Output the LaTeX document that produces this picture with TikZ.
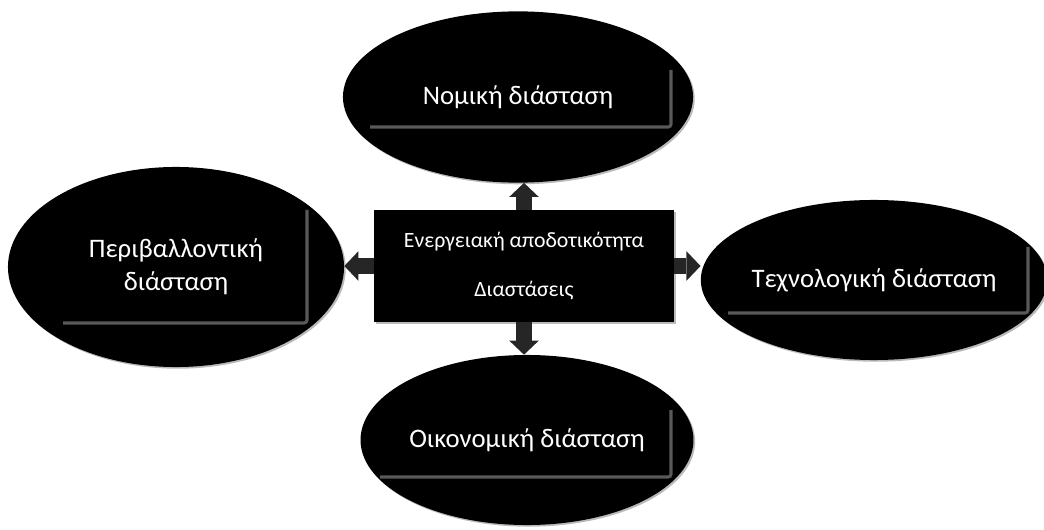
\documentclass[tikz,border=0pt]{standalone}
\usepackage{fontspec}
\setmainfont{Carlito}
\usetikzlibrary{positioning}
\usetikzlibrary{shapes.geometric}
\usetikzlibrary{arrows.meta}
\usetikzlibrary{shadows}

\begin{document}
\begin{tikzpicture}[x=0.025cm,y=-0.025cm,
	dim/.style={ellipse, fill=black, text=white, inner sep=0pt, align=center,
		font=\fontsize{19}{23.5}\selectfont,
		drop shadow={shadow xshift=1.2pt, shadow yshift=-1.2pt, fill=black!45, opacity=0.6}},
	core/.style={rectangle, fill=black, text=white, align=center,
		minimum width=7.5cm, minimum height=2.8cm,
		font=\fontsize{15.5}{34.7}\selectfont,
		drop shadow={shadow xshift=1.2pt, shadow yshift=-1.2pt, fill=black!45, opacity=0.6}},
	bevel/.style={draw=black!65, line width=2.2pt, rounded corners=2pt},
	push/.style={draw=black!85, line width=11pt,
		-{Triangle[width=21pt, length=10pt, line width=0pt]}}]
	\useasboundingbox (0,0) rectangle (1044,530);
	\node at (524,266) (cbox) [core] {Ενεργειακή αποδοτικότητα\\Διαστάσεις};
	\node at (518,97) (nomiki) [dim, minimum width=8.75cm, minimum height=4.28cm] {Νομική διάσταση};
	\node at (176,267) (perival) [dim, minimum width=8.4cm, minimum height=5cm] {Περιβαλλοντική\\διάσταση};
	\node at (874,280) (techno) [dim, minimum width=8.45cm, minimum height=4cm] {Τεχνολογική διάσταση};
	\node at (527,440) (oikon) [dim, minimum width=8.3cm, minimum height=4.25cm] {Οικονομική διάσταση};
	% bevel edges inside the ellipses
	\draw[bevel] (370,127) -- (671,127) -- (671,70);
	\draw[bevel] (63,323) -- (307,323) -- (307,210);
	\draw[bevel] (728,313) -- (1028,313) -- (1028,247);
	\draw[bevel] (380,477) -- (671,477) -- (671,410);
	% arrows from the centre
	\draw[push] (cbox.north) -- (cbox.north |- nomiki.south);
	\draw[push] (cbox.west) -- (cbox.west -| perival.east);
	\draw[push] (cbox.east) -- (cbox.east -| techno.west);
	\draw[push] (cbox.south) -- (cbox.south |- oikon.north);
\end{tikzpicture}
\end{document}
